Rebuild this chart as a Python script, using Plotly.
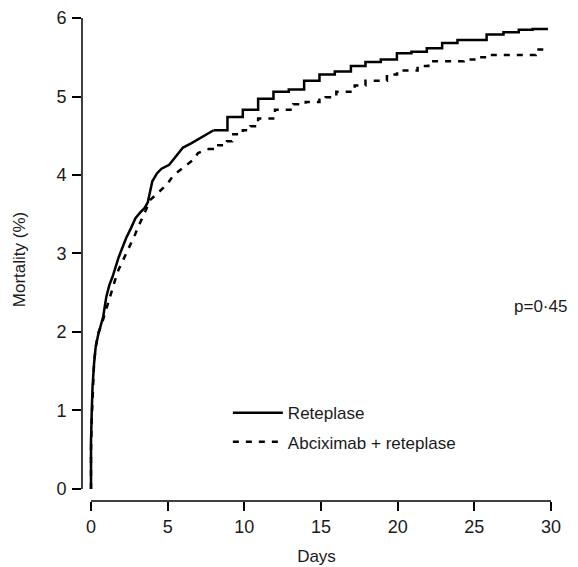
import plotly.graph_objects as go

# Reteplase (solid) - early, densely stepped part (drawn as a smooth line)
ret_days_early = [0, 0, 0.05, 0.1, 0.2, 0.3, 0.45, 0.6, 0.8, 1.0, 1.2, 1.4, 1.6, 1.8, 2.0, 2.3, 2.6,
                  2.9, 3.2, 3.5, 3.7, 3.8, 3.9, 4.0, 4.3, 4.6, 5.1, 5.4, 5.7, 6.0, 6.5, 7.0, 7.5, 8.0]
ret_mort_early = [0, 0.6, 1.0, 1.3, 1.6, 1.8, 1.95, 2.05, 2.2, 2.45, 2.6, 2.7, 2.83, 2.95, 3.05, 3.2, 3.32,
                  3.45, 3.52, 3.58, 3.65, 3.75, 3.85, 3.92, 4.02, 4.08, 4.13, 4.2, 4.27, 4.35, 4.4, 4.46, 4.52, 4.57]
# Reteplase - later steps
ret_days_late = [8.0, 8.9, 9.9, 10.9, 11.9, 12.9, 13.9, 14.9, 15.9, 16.95, 17.9, 18.9, 19.95, 20.9,
                 21.9, 22.9, 23.9, 25.8, 26.9, 27.9, 28.8, 29.8]
ret_mort_late = [4.57, 4.74, 4.83, 4.97, 5.06, 5.09, 5.2, 5.28, 5.32, 5.39, 5.44, 5.47, 5.55, 5.57,
                 5.615, 5.68, 5.72, 5.79, 5.82, 5.85, 5.86, 5.86]

# Abciximab + reteplase (dashed) - early part
abx_days_early = [0, 0, 0.05, 0.12, 0.2, 0.3, 0.46, 0.7, 0.91, 1.1, 1.37, 1.6, 1.79, 2.05, 2.33, 2.6, 2.87,
                  3.1, 3.4, 3.6, 3.85, 4.2, 4.5, 4.96, 5.28, 5.6, 6.13, 6.65, 6.98, 7.63]
abx_mort_early = [0, 0.5, 0.9, 1.3, 1.6, 1.8, 1.98, 2.1, 2.24, 2.38, 2.54, 2.68, 2.79, 2.9, 3.0, 3.12, 3.24,
                  3.35, 3.47, 3.56, 3.68, 3.74, 3.8, 3.88, 3.97, 4.03, 4.11, 4.19, 4.28, 4.33]
# Abciximab + reteplase - later steps
abx_days_late = [7.63, 8.3, 8.87, 9.2, 9.9, 10.4, 10.9, 12.0, 13.2, 14.0, 14.9, 15.3, 16.0, 17.2, 17.9,
                 19.3, 19.96, 21.3, 22.0, 24.3, 25.1, 25.8, 29.0, 29.8]
abx_mort_late = [4.33, 4.38, 4.43, 4.52, 4.57, 4.62, 4.72, 4.83, 4.9, 4.93, 4.96, 4.99, 5.06, 5.14, 5.2,
                 5.28, 5.33, 5.39, 5.45, 5.47, 5.5, 5.53, 5.6, 5.6]

x_ticks = [0, 5, 10, 15, 20, 25, 30]
y_ticks = [0, 1, 2, 3, 4, 5, 6]

FONT = "Liberation Sans, Arial, sans-serif"
TXT = "#1a1a1a"
DASH = "6px,7px"

fig = go.Figure()
fig.add_trace(go.Scatter(x=ret_days_early, y=ret_mort_early, mode="lines", name="Reteplase",
                         legendgroup="ret", line=dict(color="black", width=2.5)))
fig.add_trace(go.Scatter(x=ret_days_late, y=ret_mort_late, mode="lines", name="Reteplase",
                         legendgroup="ret", showlegend=False,
                         line=dict(color="black", width=2.5, shape="hv")))
fig.add_trace(go.Scatter(x=abx_days_early, y=abx_mort_early, mode="lines", name="Abciximab + reteplase",
                         legendgroup="abx", line=dict(color="black", width=2.5, dash=DASH)))
fig.add_trace(go.Scatter(x=abx_days_late, y=abx_mort_late, mode="lines", name="Abciximab + reteplase",
                         legendgroup="abx", showlegend=False,
                         line=dict(color="black", width=2.5, shape="hv", dash=DASH)))

# axis lines (offset style)
fig.add_shape(type="line", xref="paper", yref="y", x0=0, x1=0, y0=0, y1=6,
              line=dict(color="black", width=1.5))
fig.add_shape(type="line", xref="x", yref="paper", x0=0, x1=30, y0=0, y1=0,
              line=dict(color="black", width=1.5))

fig.add_annotation(x=1.0384, y=0.4037, xref="paper", yref="paper", text="p=0·45", showarrow=False,
                   xanchor="right", yanchor="middle", font=dict(family=FONT, size=17, color=TXT))

fig.update_layout(
    width=570, height=559,
    margin=dict(l=74, r=27, t=10, b=66),
    plot_bgcolor="white", paper_bgcolor="white",
    font=dict(family=FONT, size=17, color=TXT),
    showlegend=True,
    legend=dict(x=0.311, y=0.219, xanchor="left", yanchor="top", bgcolor="rgba(0,0,0,0)",
                font=dict(family=FONT, size=17, color=TXT), tracegroupgap=4, itemwidth=50),
    xaxis=dict(range=[-0.587, 30], tickvals=x_ticks, ticktext=[str(v) for v in x_ticks],
               showgrid=False, zeroline=False, showline=False, automargin=False,
               ticks="outside", ticklen=9, tickwidth=1.5, tickcolor="black",
               tickfont=dict(family=FONT, size=18, color=TXT),
               title=dict(text="Days", font=dict(family=FONT, size=17, color=TXT), standoff=14)),
    yaxis=dict(range=[-0.153, 6], tickvals=y_ticks, ticktext=[str(v) for v in y_ticks],
               showgrid=False, zeroline=False, showline=False, automargin=False,
               ticks="outside", ticklen=9, tickwidth=1.5, tickcolor="black", ticklabelstandoff=2,
               tickfont=dict(family=FONT, size=18, color=TXT),
               title=dict(text="Mortality (%)", font=dict(family=FONT, size=17, color=TXT), standoff=26)),
)

fig.write_html("out.html")
